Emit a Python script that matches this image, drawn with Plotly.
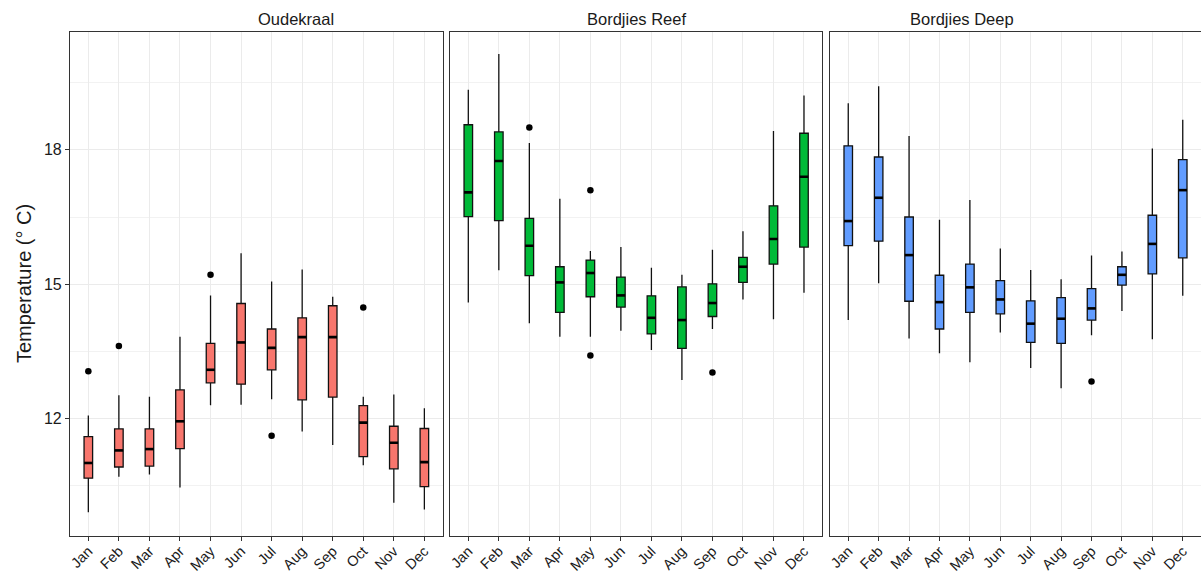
import plotly.graph_objects as go

months = ["Jan", "Feb", "Mar", "Apr", "May", "Jun", "Jul", "Aug", "Sep", "Oct", "Nov", "Dec"]
sites = ["Oudekraal", "Bordjies Reef", "Bordjies Deep"]
colors = ["#F8766D", "#00BA38", "#619CFF"]

# Oudekraal
ok_low = [9.91, 10.70, 10.75, 10.46, 12.30, 12.31, 12.43, 11.71, 11.41, 10.96, 10.12, 9.97]
ok_q1 = [10.67, 10.92, 10.94, 11.33, 12.80, 12.77, 13.09, 12.42, 12.48, 11.15, 10.88, 10.48]
ok_med = [11.01, 11.29, 11.32, 11.94, 13.09, 13.70, 13.58, 13.82, 13.82, 11.91, 11.46, 11.03]
ok_q3 = [11.60, 11.77, 11.77, 12.64, 13.68, 14.57, 14.00, 14.25, 14.52, 12.29, 11.83, 11.78]
ok_high = [12.07, 12.52, 12.49, 13.83, 14.75, 15.69, 15.06, 15.33, 14.72, 12.49, 12.54, 12.23]
ok_out_m = ["Jan", "Feb", "May", "Jul", "Oct"]
ok_out_v = [13.06, 13.62, 15.21, 11.62, 14.48]

# Bordjies Reef
br_low = [14.59, 15.31, 14.13, 13.83, 13.83, 13.96, 13.53, 12.86, 14.00, 14.66, 14.22, 14.81]
br_q1 = [16.51, 16.42, 15.19, 14.37, 14.72, 14.49, 13.89, 13.57, 14.28, 15.04, 15.45, 15.83]
br_med = [17.05, 17.75, 15.86, 15.04, 15.25, 14.75, 14.25, 14.20, 14.58, 15.39, 16.01, 17.40]
br_q3 = [18.56, 18.40, 16.47, 15.39, 15.54, 15.16, 14.74, 14.94, 15.01, 15.60, 16.75, 18.37]
br_high = [19.34, 20.14, 18.15, 16.91, 15.74, 15.83, 15.37, 15.21, 15.77, 16.18, 18.42, 19.21]
br_out_m = ["Mar", "May", "May", "Sep"]
br_out_v = [18.50, 17.10, 13.41, 13.03]

# Bordjies Deep
bd_low = [14.20, 15.02, 13.79, 13.46, 13.26, 13.92, 13.13, 12.68, 13.86, 14.40, 13.77, 14.74]
bd_q1 = [15.86, 15.96, 14.62, 14.00, 14.37, 14.34, 13.70, 13.68, 14.20, 14.98, 15.23, 15.59]
bd_med = [16.41, 16.93, 15.65, 14.60, 14.93, 14.66, 14.12, 14.23, 14.46, 15.21, 15.90, 17.10]
bd_q3 = [18.09, 17.84, 16.50, 15.20, 15.45, 15.08, 14.63, 14.70, 14.90, 15.39, 16.54, 17.78]
bd_high = [19.04, 19.42, 18.31, 16.44, 16.88, 15.80, 15.32, 15.11, 15.64, 15.73, 18.03, 18.67]
bd_out_m = ["Sep"]
bd_out_v = [12.83]

y_title = "Temperature (° C)"
y_ticks = [12, 15, 18]

data = [
    (ok_low, ok_q1, ok_med, ok_q3, ok_high, ok_out_m, ok_out_v),
    (br_low, br_q1, br_med, br_q3, br_high, br_out_m, br_out_v),
    (bd_low, bd_q1, bd_med, bd_q3, bd_high, bd_out_m, bd_out_v),
]

W, H = 1201, 574
ml, mr, mt, mb = 70, 0, 32, 38
pw = W - ml - mr
px_edges = [(70, 442.7), (450, 822.3), (830, 1201)]
domains = [[(a - ml) / pw, (b - ml) / pw] for a, b in px_edges]

BOX_W = 0.28
xs = list(range(len(months)))

fig = go.Figure()
for k, (lo, q1, med, q3, hi, om, ov) in enumerate(data):
    xa = "x" if k == 0 else f"x{k+1}"
    ya = "y" if k == 0 else f"y{k+1}"
    fig.add_trace(go.Box(
        x=xs, q1=q1, median=med, q3=q3, lowerfence=lo, upperfence=hi,
        fillcolor=colors[k], line=dict(color="#111111", width=1.3),
        width=BOX_W, whiskerwidth=0, boxpoints=False, hoverinfo="skip",
        xaxis=xa, yaxis=ya, showlegend=False,
    ))
    mx, my = [], []
    for i, m in enumerate(med):
        mx += [i - BOX_W / 2, i + BOX_W / 2, None]
        my += [m, m, None]
    fig.add_trace(go.Scatter(x=mx, y=my, mode="lines",
                             line=dict(color="#000000", width=2.6),
                             xaxis=xa, yaxis=ya, showlegend=False, hoverinfo="skip"))
    fig.add_trace(go.Scatter(x=[months.index(m) for m in om], y=ov, mode="markers",
                             marker=dict(color="#000000", size=6.5),
                             xaxis=xa, yaxis=ya, showlegend=False, hoverinfo="skip"))

layout = dict(
    width=W, height=H,
    margin=dict(l=ml, r=mr, t=mt, b=mb),
    paper_bgcolor="white", plot_bgcolor="white",
    font=dict(family="Liberation Sans, Arial, sans-serif", color="#1a1a1a"),
)
for k in range(3):
    xk = "xaxis" if k == 0 else f"xaxis{k+1}"
    yk = "yaxis" if k == 0 else f"yaxis{k+1}"
    layout[xk] = dict(
        domain=domains[k], range=[-0.6, 11.6], anchor="y" if k == 0 else f"y{k+1}",
        tickmode="array", tickvals=xs, ticktext=months, tickangle=-45,
        ticks="outside", ticklen=4, tickcolor="#333333", tickwidth=1,
        tickfont=dict(size=14.5, color="#1a1a1a"), ticklabelstandoff=-4,
        showgrid=True, gridcolor="#ebebeb", gridwidth=1,
        showline=True, mirror=True, linecolor="#333333", linewidth=1.2,
        zeroline=False, automargin=False, fixedrange=True,
    )
    layout[yk] = dict(
        domain=[0, 1], range=[9.38, 20.63], anchor="x" if k == 0 else f"x{k+1}",
        tickmode="array", tickvals=y_ticks,
        showticklabels=(k == 0), ticks="outside" if k == 0 else "",
        ticklen=4, tickcolor="#333333", tickwidth=1,
        tickfont=dict(size=16, color="#1a1a1a"),
        showgrid=True, gridcolor="#ebebeb", gridwidth=1,
        minor=dict(tickvals=[10.5, 13.5, 16.5, 19.5], showgrid=True,
                   gridcolor="#f2f2f2", gridwidth=1, ticks=""),
        showline=True, mirror=True, linecolor="#333333", linewidth=1.2,
        zeroline=False, automargin=False, fixedrange=True,
    )
fig.update_layout(**layout)

for k, s in enumerate(sites):
    fig.add_annotation(text=s, x=(domains[k][0] + domains[k][1]) / 2, y=1,
                       xref="paper", yref="paper", yanchor="middle", yshift=13,
                       showarrow=False, font=dict(size=16.5, color="#1a1a1a"))
fig.add_annotation(text=y_title, x=0, y=0.5, xref="paper", yref="paper",
                   xanchor="center", yanchor="middle",
                   xshift=-46, textangle=-90, showarrow=False,
                   font=dict(size=20, color="#1a1a1a"))

fig.write_html("out.html", config={"displayModeBar": False},
               post_script="document.body.style.margin='0';")
